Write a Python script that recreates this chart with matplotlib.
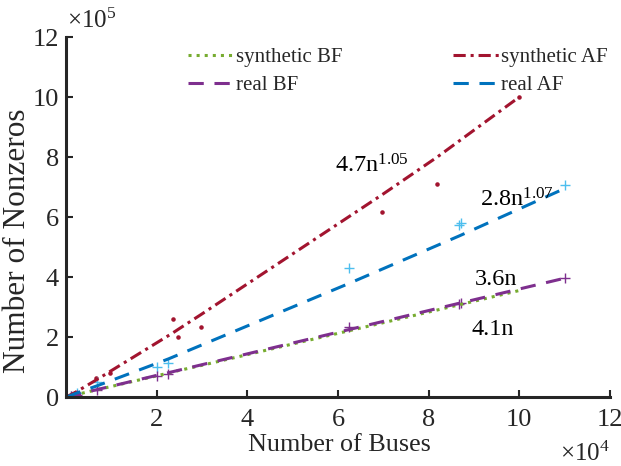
import matplotlib
matplotlib.use("Agg")
import matplotlib.pyplot as plt

plt.rcParams['font.family'] = ['Liberation Serif', 'DejaVu Serif']
plt.rcParams['mathtext.fontset'] = 'custom'
plt.rcParams['mathtext.rm'] = 'Liberation Serif'
plt.rcParams['mathtext.it'] = 'Liberation Serif:italic'

# x in units of 1e4 buses, y in units of 1e5 nonzeros
syn_bf_x = [0.0, 0.2, 0.67, 0.97, 2.35, 2.48, 2.98, 6.98, 8.19, 10.0]
syn_bf_y = [0.0, 0.07, 0.24, 0.34, 0.83, 0.88, 1.05, 2.47, 2.90, 3.55]

syn_af_x = [0.0, 0.2, 0.67, 0.97, 2.35, 2.48, 2.98, 6.98, 8.19, 10.0]
syn_af_y = [0.0, 0.15, 0.57, 0.85, 2.13, 2.26, 2.75, 6.75, 8.0, 10.0]
syn_af_pts_y = [0.0, 0.12, 0.64, 0.80, 2.60, 2.00, 2.32, 6.17, 7.11, 10.0]

real_x = [0.0, 0.1, 0.25, 0.68, 2.0, 2.26, 6.25, 8.66, 8.72, 11.0]
real_bf_y = [0.0, 0.036, 0.09, 0.245, 0.72, 0.81, 2.25, 3.12, 3.14, 3.96]
real_bf_pts_y = [0.0, 0.03, 0.08, 0.22, 0.70, 0.78, 2.34, 3.10, 3.14, 3.96]
real_af_y = [0.0, 0.05, 0.14, 0.37, 1.12, 1.27, 3.79, 5.36, 5.40, 6.95]
real_af_pts_y = [0.0, 0.03, 0.12, 0.51, 0.99, 1.14, 4.29, 5.75, 5.80, 7.07]

xticks = [2, 4, 6, 8, 10, 12]
yticks = [0, 2, 4, 6, 8, 10, 12]

GREEN = '#77AC30'
RED = '#A2142F'
BLUE = '#0072BD'
PURPLE = '#7E2F8E'
LBLUE = '#4DBEEE'
DARK = '#262626'

fig = plt.figure(figsize=(6.21, 4.66), dpi=100)
ax = fig.add_axes([66/621, 69/466, 544/621, 360/466])

ax.plot(syn_af_x, syn_af_pts_y, linestyle='none', marker='.', color=RED, ms=4.5)
ax.plot(real_x, real_af_pts_y, linestyle='none', marker='+', color=LBLUE, ms=6.5, mew=1)
ax.plot(real_x, real_bf_pts_y, linestyle='none', marker='+', color=PURPLE, ms=6.5, mew=1)

l1, = ax.plot(syn_bf_x, syn_bf_y, linestyle=':', color=GREEN, lw=2.2, label='synthetic BF')
l2, = ax.plot(real_x, real_bf_y, linestyle=(0, (5, 3.5)), color=PURPLE, lw=2.2, label='real BF')
l3, = ax.plot(syn_af_x, syn_af_y, linestyle=(0, (4, 1.6, 1, 1.6)), color=RED, lw=2.2, label='synthetic AF')
l4, = ax.plot(real_x, real_af_y, linestyle=(0, (5, 3.5)), color=BLUE, lw=2.2, label='real AF')

ax.set_xlim(0, 12)
ax.set_ylim(0, 12)
ax.set_xticks(xticks)
ax.set_yticks(yticks)
ax.tick_params(direction='in', length=5, width=1.5, colors=DARK, labelsize=19, pad=5)
ax.tick_params(axis='x', pad=9)
for s in ['top', 'right']:
    ax.spines[s].set_visible(False)
for s in ['left', 'bottom']:
    ax.spines[s].set_linewidth(2.2)
    ax.spines[s].set_color(DARK)

ax.set_xlabel('Number of Buses', fontsize=18.8, color=DARK)
ax.xaxis.set_label_coords((339 - 66) / 544, (397 - 434) / 360)
ax.set_ylabel('Number of Nonzeros', fontsize=22.5, color=DARK)
ax.yaxis.set_label_coords((32 - 66) / 544, (397 - 241) / 360)

leg = ax.legend(handles=[l1, l2, l3, l4], ncol=2, frameon=False, fontsize=15,
                loc='upper left', bbox_to_anchor=(0.205, 1.0), handlelength=2.2,
                handletextpad=0.1, columnspacing=5.3, labelspacing=0.4, borderpad=0)
for t in leg.get_texts():
    t.set_color(DARK)

ax.text(5.93, 7.47, r'4.7n$^{\mathregular{1.05}}$', fontsize=17.5, color='black')
ax.text(9.13, 6.34, r'2.8n$^{\mathregular{1.07}}$', fontsize=17.5, color='black')
ax.text(9.02, 3.73, '3.6n', fontsize=17.5, color='black')
ax.text(8.95, 2.07, '4.1n', fontsize=17.5, color='black')

fig.text(67/621, 1 - 28/466, r'$\times\mathregular{10^{5}}$', fontsize=18, color=DARK)
fig.text(560/621, 1 - 461/466, r'$\times\mathregular{10^{4}}$', fontsize=18, color=DARK)

fig.savefig('out.png', dpi=100)
